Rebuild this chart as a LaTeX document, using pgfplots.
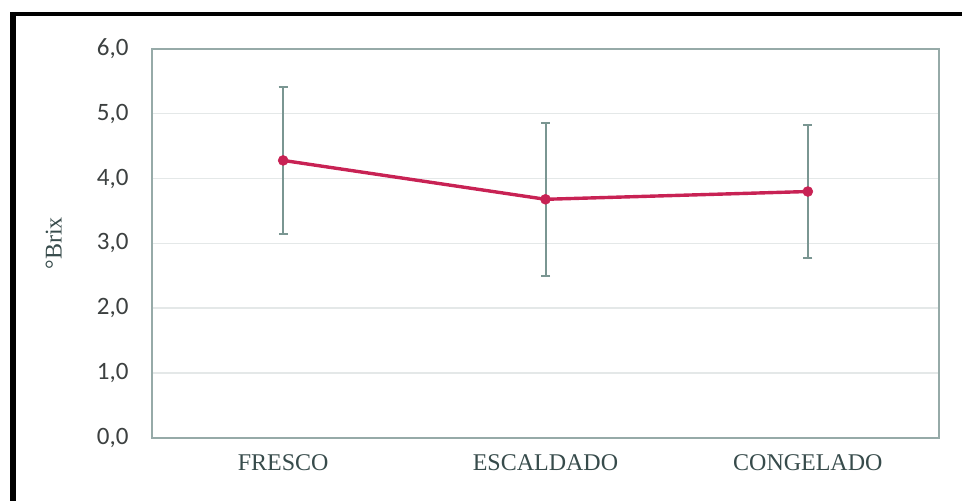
\documentclass[border=0pt]{standalone}
\usepackage{fontspec}
\setmainfont{Liberation Serif}
\newfontfamily\carlito{Carlito}
\usepackage{pgfplots}
\pgfplotsset{compat=1.18}
\definecolor{linecol}{RGB}{200,34,84}
\definecolor{errcol}{RGB}{122,150,146}
\definecolor{axcol}{RGB}{150,170,168}
\definecolor{gridcol}{RGB}{228,232,232}
\definecolor{tickcol}{RGB}{60,64,64}
\definecolor{catcol}{RGB}{55,75,75}
\begin{document}
\begin{tikzpicture}
\path[use as bounding box] (0pt,0pt) rectangle (962pt,501pt);
\fill[black] (10pt,0pt) rectangle (16pt,489pt);
\fill[black] (10pt,485pt) rectangle (962pt,489pt);
\begin{axis}[
  at={(152pt,63.3pt)}, anchor=south west,
  scale only axis, width=787pt, height=388.7pt,
  xmin=-0.5, xmax=2.5, ymin=0, ymax=6,
  xtick={0,1,2}, xticklabels={FRESCO,ESCALDADO,CONGELADO},
  ytick={0,1,2,3,4,5,6},
  major tick length=0pt,
  axis line style={axcol, line width=1.8pt},
  ymajorgrids, grid style={gridcol, line width=1.3pt},
  /pgf/number format/assume math mode=true,
  yticklabel={\pgfmathprintnumber[fixed,fixed zerofill,precision=1,use comma]{\tick}},
  yticklabel style={font=\carlito\fontsize{25}{28}\selectfont, text=tickcol, xshift=-20pt},
  xticklabel style={font=\fontsize{24}{28}\selectfont, text=catcol, yshift=-13pt},
  ylabel={°Brix},
  every axis y label/.style={at={(axis description cs:-0.125,0.5)}, rotate=90, anchor=center, font=\fontsize{24}{28}\selectfont, text=catcol},
]
\addplot[color=linecol, line width=3.4pt, mark=*, mark size=5pt,
  mark options={fill=linecol, draw=linecol, line width=0.5pt},
  error bars/.cd, y dir=both, y explicit,
  error bar style={errcol, line width=2pt},
  error mark options={errcol, line width=2pt, mark size=4.5pt, rotate=90}]
coordinates {
  (0,4.28) +- (0,1.13)
  (1,3.68) +- (0,1.18)
  (2,3.80) +- (0,1.02)
};
\end{axis}
\end{tikzpicture}
\end{document}
